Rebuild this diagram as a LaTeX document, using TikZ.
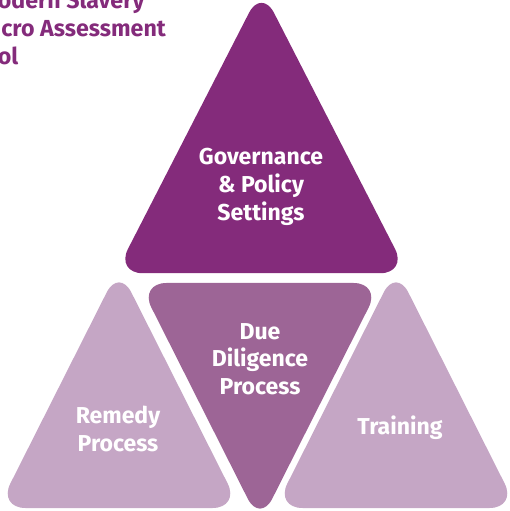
\documentclass[tikz,border=0pt]{standalone}
\usepackage{fontspec}
\setmainfont{Fira Sans}
\usepackage{tikz}
\definecolor{governance}{HTML}{842B7B}
\definecolor{diligence}{HTML}{9D6596}
\definecolor{outer}{HTML}{C5A6C5}
\tikzset{%
    tri/.style={rounded corners=0.55cm},
    txt/.style={text=white, align=center, font=\fontsize{13.1}{15.8}\selectfont\bfseries},
    heading/.style={text=governance, anchor=base west, inner sep=0pt, font=\fontsize{13.2}{15.8}\selectfont\bfseries}
}

\begin{document}
\begin{tikzpicture}
        \useasboundingbox (0,0) rectangle (10.2,10.22);
        \clip (0,0) rectangle (10.2,10.22);

        % title, cut at the page edge
        \node[heading] (title1) at (-0.05,10.05) {odern Slavery};
        \node[heading] (title2) at (0.02,9.49) {cro Assessment};
        \node[heading] (title3) at (-0.05,8.92) {ol};

        % top: governance
        \fill[governance, tri] (2.31,4.755) -- (5.23,10.45) -- (8.15,4.755) -- cycle;
        \node[txt] (gov) at (5.22,6.48) {Governance\\\& Policy\\Settings};

        % middle: due diligence
        \fill[diligence, tri] (2.78,4.56) -- (7.62,4.56) -- (5.2,-0.24) -- cycle;
        \node[txt] (due) at (5.2,3.04) {Due\\Diligence\\Process};

        % sides
        \fill[outer, tri] (-0.04,0.06) -- (2.38,4.86) -- (4.8,0.06) -- cycle;
        \node[txt] (remedy) at (2.36,1.64) {Remedy\\Process};

        \fill[outer, tri] (5.5,0.06) -- (7.92,4.86) -- (10.34,0.06) -- cycle;
        \node[txt] (training) at (8.0,1.66) {Training};
\end{tikzpicture}
\end{document}
